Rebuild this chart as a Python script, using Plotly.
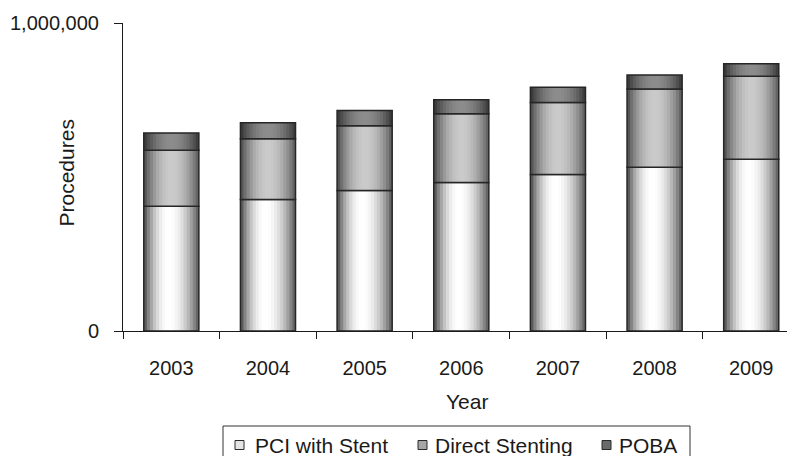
import plotly.graph_objects as go

years = ["2003", "2004", "2005", "2006", "2007", "2008", "2009"]
pci_with_stent = [405000, 427000, 456000, 482000, 508000, 532000, 558000]
direct_stenting = [182000, 197000, 210000, 223000, 234000, 254000, 269000]
poba = [56000, 52000, 50000, 46000, 49000, 45000, 41000]
series_names = ["PCI with Stent", "Direct Stenting", "POBA"]
y_tick_vals = [0, 1000000]
y_tick_text = ["0", "1,000,000"]

FONT = "Liberation Sans, Arial, sans-serif"
TFS = 20      # tick labels
AFS = 21      # axis titles
LFS = 21      # legend
BAR_W = 0.57
N_STRIPES = 18

# plot-area geometry in pixels (used to place the hand-built legend / labels)
W, H = 787, 456
ML, MR, MT, MB = 123, 0, 23, 125
PW, PH = W - ML - MR, H - MT - MB

# (left edge grey, peak grey, right edge grey, peak position)
styles = {
    "PCI with Stent": (70, 255, 85, 0.45),
    "Direct Stenting": (72, 202, 88, 0.5),
    "POBA": (50, 140, 54, 0.5),
}
legend_fill = {"PCI with Stent": "#e4e4e4", "Direct Stenting": "#a6a6a6", "POBA": "#6a6a6a"}
# legend layout (pixels): symbol left x, text left x
legend_items = {"PCI with Stent": (235, 253), "Direct Stenting": (418, 433), "POBA": (602, 617)}
legend_box = (223, 690, 426, 475)
legend_cy = 445
ytick_label_right = 101


def grey_at(t, lo_l, hi, lo_r, c):
    if t <= c:
        u = t / c
        v = lo_l + (hi - lo_l) * (1 - (1 - u) ** 2)
    else:
        u = (t - c) / (1 - c)
        v = hi + (lo_r - hi) * (u ** 2)
    v = int(round(v))
    return f"rgb({v},{v},{v})"


def px_x(p):
    return (p - ML) / PW


def px_y(p):
    return (H - MB - p) / PH


series = list(zip(series_names, [pci_with_stent, direct_stenting, poba]))

fig = go.Figure()
bases = [0] * len(years)
for name, vals in series:
    lo_l, hi, lo_r, c = styles[name]
    sw = BAR_W / N_STRIPES
    for k in range(N_STRIPES):
        t = (k + 0.5) / N_STRIPES
        w = sw * 1.6 if k < N_STRIPES - 1 else sw
        fig.add_trace(go.Bar(
            x=years, y=vals, base=list(bases),
            width=w, offset=-BAR_W / 2 + k * sw,
            marker=dict(color=grey_at(t, lo_l, hi, lo_r, c), line=dict(width=0)),
            showlegend=False, hoverinfo="skip",
        ))
    fig.add_trace(go.Bar(
        x=years, y=vals, base=list(bases), width=BAR_W,
        marker=dict(color="rgba(0,0,0,0)", line=dict(color="#262626", width=1.5)),
        showlegend=False, name=name,
    ))
    bases = [b + v for b, v in zip(bases, vals)]

fig.update_layout(
    width=W, height=H,
    margin=dict(l=ML, r=MR, t=MT, b=MB, autoexpand=False),
    barmode="overlay",
    paper_bgcolor="white", plot_bgcolor="white",
    font=dict(family=FONT, size=TFS, color="#1a1a1a"),
    showlegend=False,
)
fig.update_xaxes(
    type="category", range=[-0.5, 6.37], automargin=False,
    showline=True, linecolor="#1a1a1a", linewidth=1.3,
    ticks="outside", tickson="boundaries", ticklen=7, tickcolor="#1a1a1a", tickwidth=1.2,
    showgrid=False, zeroline=False, ticklabelstandoff=19,
    tickfont=dict(size=TFS),
)
fig.update_yaxes(
    range=[0, 1000000], tickvals=y_tick_vals, ticktext=y_tick_text, automargin=False,
    showline=True, linecolor="#1a1a1a", linewidth=1.3,
    ticks="outside", ticklen=8, tickcolor="#1a1a1a", tickwidth=1.2,
    showgrid=False, zeroline=False, showticklabels=False,
)
# y tick labels placed through the y scale
for v, txt in zip(y_tick_vals, y_tick_text):
    fig.add_annotation(text=txt, xref="paper", yref="y", x=px_x(ytick_label_right), y=v,
                       xanchor="right", yanchor="middle", showarrow=False,
                       font=dict(size=TFS, family=FONT, color="#1a1a1a"))
fig.add_annotation(text="Year", xref="paper", yref="paper", x=0.518, y=-0.2305,
                   xanchor="center", yanchor="middle", showarrow=False,
                   font=dict(size=AFS, family=FONT, color="#1a1a1a"))
fig.add_annotation(text="Procedures", xref="paper", yref="paper", x=-0.0836, y=0.513,
                   xanchor="center", yanchor="middle", textangle=-90, showarrow=False,
                   font=dict(size=AFS, family=FONT, color="#1a1a1a"))

# legend box, symbols and labels
bx0, bx1, by0, by1 = legend_box
fig.add_shape(type="rect", xref="paper", yref="paper",
              x0=px_x(bx0), x1=px_x(bx1), y0=px_y(by0), y1=px_y(by1),
              line=dict(color="#333333", width=1), fillcolor="rgba(0,0,0,0)")
for name in series_names:
    sx, tx = legend_items[name]
    fig.add_shape(type="rect", xref="paper", yref="paper",
                  x0=px_x(sx), x1=px_x(sx + 9), y0=px_y(legend_cy - 4.5), y1=px_y(legend_cy + 4.5),
                  line=dict(color="#2a2a2a", width=1), fillcolor=legend_fill[name])
    fig.add_annotation(text=name, xref="paper", yref="paper", x=px_x(tx), y=px_y(legend_cy),
                       xanchor="left", yanchor="middle", showarrow=False,
                       font=dict(size=LFS, family=FONT, color="#1a1a1a"))

fig.write_html(
    "out.html",
    config={"displayModeBar": False},
    post_script="document.body.style.margin='0';document.body.style.overflow='hidden';",
)
